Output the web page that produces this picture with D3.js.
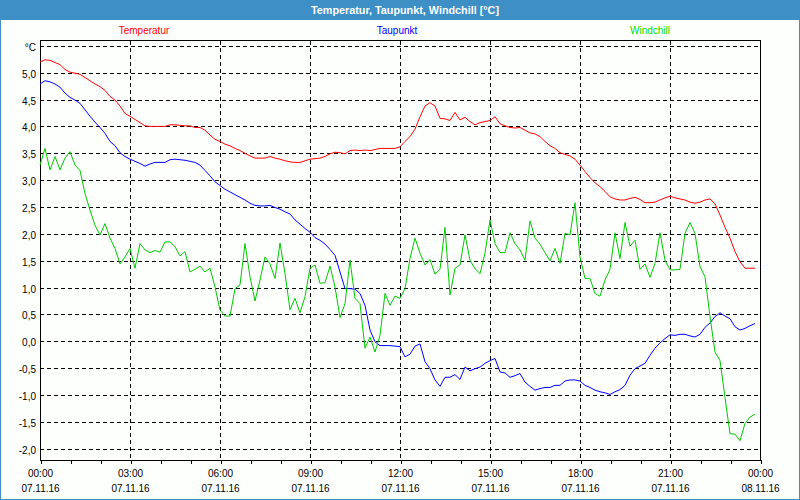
<!DOCTYPE html>
<html>
<head>
<meta charset="utf-8">
<script src="https://cdn.jsdelivr.net/npm/d3@7"></script>
<style>
  html, body { margin: 0; padding: 0; background: #fdfffd; }
  svg { display: block; }
  text { font-family: Tahoma, "Liberation Sans", Arial, sans-serif; }
</style>
</head>
<body>
<svg id="chart" width="800" height="500"></svg>
<script>
// ---- data (10-minute samples, 07.11.16 00:00 .. 23:50) ----
const title = "Temperatur, Taupunkt, Windchill [°C]";
const seriesNames = ["Temperatur", "Taupunkt", "Windchill"];
const seriesColors = ["#ff0000", "#0000ff", "#00c800"];
const legendColors = ["#ff0000", "#0000ff", "#00dd00"];
const startTime = new Date(2016, 10, 7, 0, 0);
const endTime = new Date(2016, 10, 8, 0, 0);
const stepMinutes = 10;
const yTicks = [-2.0, -1.5, -1.0, -0.5, 0.0, 0.5, 1.0, 1.5, 2.0, 2.5, 3.0, 3.5, 4.0, 4.5, 5.0, 5.5];
const yUnitLabel = "°C";

const temperatur = [
 5.21,5.25,5.24,5.20,5.16,5.07,5.02,5.00,4.98,4.92,4.86,4.80,4.75,4.68,4.57,4.50,4.39,4.25,4.20,4.14,
 4.08,4.02,4.01,4.01,4.01,4.01,4.04,4.04,4.03,4.02,4.02,3.99,3.99,3.94,3.85,3.77,3.73,3.68,3.65,3.60,
 3.56,3.51,3.46,3.42,3.42,3.42,3.45,3.42,3.40,3.37,3.35,3.34,3.34,3.37,3.40,3.41,3.42,3.45,3.50,3.53,
 3.52,3.50,3.56,3.57,3.56,3.57,3.56,3.58,3.60,3.60,3.60,3.60,3.63,3.73,3.82,3.96,4.19,4.39,4.45,4.39,
 4.16,4.15,4.12,4.27,4.13,4.18,4.10,4.04,4.08,4.10,4.12,4.19,4.06,4.02,3.99,3.98,3.99,3.94,3.89,3.87,
 3.82,3.73,3.65,3.60,3.52,3.49,3.46,3.40,3.29,3.17,3.06,2.96,2.89,2.80,2.70,2.66,2.64,2.64,2.67,2.69,
 2.65,2.59,2.59,2.60,2.64,2.68,2.71,2.68,2.66,2.64,2.60,2.58,2.60,2.64,2.66,2.57,2.36,2.13,1.93,1.68,
 1.49,1.37,1.37,1.37
];
const taupunkt = [
 4.80,4.86,4.84,4.80,4.74,4.63,4.55,4.50,4.44,4.32,4.20,4.09,3.99,3.88,3.73,3.65,3.52,3.45,3.40,3.36,
 3.32,3.27,3.31,3.34,3.34,3.34,3.39,3.40,3.39,3.38,3.36,3.34,3.29,3.19,3.09,2.98,2.91,2.84,2.79,2.74,
 2.69,2.64,2.58,2.54,2.53,2.53,2.54,2.50,2.47,2.42,2.38,2.27,2.19,2.11,2.04,1.94,1.89,1.82,1.72,1.61,
 1.30,0.99,0.99,0.98,0.90,0.68,0.22,0.00,-0.07,-0.07,-0.07,-0.08,-0.09,-0.28,-0.23,-0.08,-0.04,-0.37,-0.50,-0.71,
 -0.83,-0.66,-0.66,-0.61,-0.70,-0.47,-0.54,-0.50,-0.47,-0.40,-0.35,-0.31,-0.56,-0.58,-0.66,-0.63,-0.59,-0.75,-0.83,-0.90,
 -0.87,-0.85,-0.85,-0.81,-0.81,-0.73,-0.71,-0.71,-0.73,-0.81,-0.85,-0.90,-0.93,-0.95,-0.98,-0.93,-0.89,-0.81,-0.62,-0.50,
 -0.45,-0.40,-0.25,-0.12,-0.02,0.06,0.13,0.12,0.14,0.14,0.11,0.09,0.14,0.27,0.35,0.47,0.54,0.48,0.43,0.28,
 0.22,0.25,0.30,0.34
];
const windchill = [
 3.29,3.60,3.20,3.45,3.20,3.42,3.54,3.29,3.19,2.76,2.45,2.17,1.99,2.20,1.93,1.74,1.45,1.58,1.74,1.37,
 1.83,1.71,1.66,1.70,1.67,1.86,1.86,1.77,1.60,1.68,1.30,1.35,1.41,1.30,1.37,1.02,0.59,0.48,0.48,0.99,
 1.06,1.83,1.21,0.76,1.15,1.58,1.45,1.18,1.84,1.27,0.60,0.81,0.54,0.84,1.37,1.43,1.09,1.10,1.41,1.02,
 0.45,0.71,1.52,0.81,0.71,-0.12,0.09,-0.19,0.12,0.90,0.68,0.85,0.81,0.99,1.55,1.93,1.65,1.43,1.53,1.26,
 1.35,2.13,0.87,1.37,1.43,1.99,1.52,1.36,1.27,1.65,2.27,1.83,1.66,1.66,2.03,1.83,1.71,1.52,2.25,1.93,
 1.82,1.66,1.51,1.74,1.46,2.02,1.99,2.59,1.58,1.18,1.18,0.90,0.85,1.15,1.35,2.03,1.55,2.22,1.78,1.89,
 1.35,1.45,1.20,1.46,2.03,1.52,1.34,1.34,1.35,2.02,2.22,2.02,1.40,1.21,0.47,-0.19,-0.35,-1.04,-1.71,-1.72,
 -1.84,-1.52,-1.40,-1.35
];
const seriesValues = [temperatur, taupunkt, windchill];

// ---- layout ----
const W = 800, H = 500;
const plot = { left: 40, right: 760, top: 41, bottom: 460 };
const svg = d3.select("#chart");

svg.append("rect").attr("x", 0).attr("y", 0).attr("width", W).attr("height", H).attr("fill", "#fdfffd");

// title bar
svg.append("rect").attr("x", 0).attr("y", 0).attr("width", W).attr("height", 20).attr("fill", "#3d8fc6");
svg.append("text").attr("x", 405).attr("y", 14).attr("text-anchor", "middle")
  .attr("fill", "#ffffff").attr("font-weight", "bold").attr("font-size", 11)
  .attr("textLength", 188).attr("lengthAdjust", "spacingAndGlyphs")
  .text(title);

// outer border
svg.append("rect").attr("x", 0.5).attr("y", 0.5).attr("width", W - 1).attr("height", H - 1)
  .attr("fill", "none").attr("stroke", "#3d8fc6").attr("stroke-width", 1);

// scales
const x = d3.scaleTime().domain([startTime, endTime]).range([plot.left, plot.right]);
const y = d3.scaleLinear().domain([-2.2, 5.6]).range([plot.bottom, plot.top]);

// legend
const legendX = [144, 397, 650];
seriesNames.forEach((n, i) => {
  svg.append("text").attr("x", legendX[i]).attr("y", 34).attr("text-anchor", "middle")
    .attr("font-size", 10).attr("fill", legendColors[i]).text(n);
});

// horizontal grid
const gy = v => Math.floor(y(v)) + 0.5;
svg.append("g").selectAll("line").data(yTicks).join("line")
  .attr("x1", plot.left).attr("x2", plot.right)
  .attr("y1", gy).attr("y2", gy)
  .attr("stroke", "#000").attr("stroke-width", 1).attr("stroke-dasharray", "4,3")
  .attr("shape-rendering", "crispEdges");

// vertical grid (every 3 h)
const vTicks = d3.timeHour.every(3).range(startTime, endTime).filter(d => +d !== +startTime);
const gx = d => Math.round(x(d)) + 0.5;
svg.append("g").selectAll("line").data(vTicks).join("line")
  .attr("x1", gx).attr("x2", gx)
  .attr("y1", plot.top).attr("y2", plot.bottom)
  .attr("stroke", "#000").attr("stroke-width", 1).attr("stroke-dasharray", "4,3")
  .attr("shape-rendering", "crispEdges");

// y labels
svg.append("g").selectAll("text").data(yTicks).join("text")
  .attr("x", 36).attr("y", d => gy(d) + 4).attr("text-anchor", "end")
  .attr("font-size", 10).attr("fill", "#000")
  .text(d => d === 5.5 ? yUnitLabel : d3.format(".1f")(d).replace(".", ",").replace("−", "-"));

// x axis minor ticks (hourly)
const xAxisMinor = d3.axisBottom(x).ticks(d3.timeHour.every(1)).tickSize(4).tickFormat("");
const gMinor = svg.append("g").attr("transform", `translate(0.5,${plot.bottom})`).call(xAxisMinor);
gMinor.select(".domain").remove();
gMinor.selectAll("line").attr("stroke", "#000").attr("shape-rendering", "crispEdges");

// x axis labels (3-hourly, two lines)
const xAxis = d3.axisBottom(x).ticks(d3.timeHour.every(3)).tickSize(0).tickFormat("");
const gX = svg.append("g").attr("transform", `translate(0,${plot.bottom})`).call(xAxis);
gX.select(".domain").remove();
gX.selectAll(".tick").each(function(d) {
  const t = d3.select(this);
  t.append("text").attr("y", 17).attr("fill", "#000").attr("font-size", 10)
    .attr("text-anchor", "middle").text(d3.timeFormat("%H:%M")(d));
  t.append("text").attr("y", 32).attr("fill", "#000").attr("font-size", 10)
    .attr("text-anchor", "middle").text(d3.timeFormat("%d.%m.%y")(d));
});

// frame
svg.append("rect").attr("x", plot.left + 0.5).attr("y", plot.top - 0.5)
  .attr("width", plot.right - plot.left).attr("height", plot.bottom - plot.top + 0.5)
  .attr("fill", "none").attr("stroke", "#000").attr("stroke-width", 1)
  .attr("shape-rendering", "crispEdges");

// lines
const timeAt = i => d3.timeMinute.offset(startTime, i * stepMinutes);
const line = d3.line().x((d, i) => x(timeAt(i))).y(d => y(d));
seriesValues.forEach((vals, k) => {
  svg.append("path").datum(vals)
    .attr("d", line)
    .attr("fill", "none").attr("stroke", seriesColors[k]).attr("stroke-width", 1);
});
</script>
</body>
</html>
